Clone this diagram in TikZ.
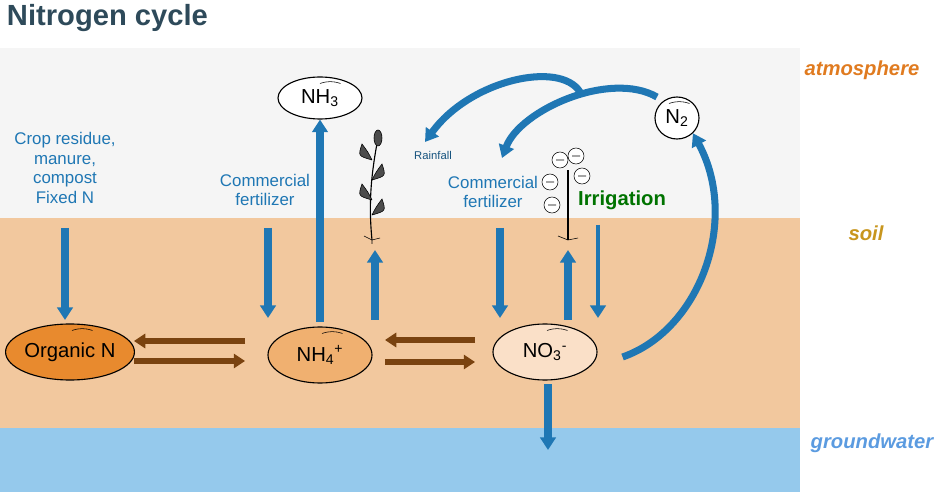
\documentclass[tikz,border=0pt]{standalone}
\usepackage{fontspec}
\setmainfont{Liberation Sans}
\usetikzlibrary{arrows.meta,shapes.geometric}
\definecolor{flowblue}{HTML}{1F77B4}
\definecolor{flowbrown}{HTML}{7A4310}
\definecolor{soilcol}{HTML}{F2C89E}
\definecolor{watercol}{HTML}{95C9EC}
\definecolor{aircol}{HTML}{F5F5F5}
\begin{document}
\begin{tikzpicture}[x=0.025cm, y=-0.025cm]
  \tikzstyle{pool} = [ellipse, draw, thick, inner sep=0pt, font=\Large]
  \tikzstyle{flow} = [-{Triangle[width=11pt,length=9pt]}, line width=5pt, flowblue]
  \tikzstyle{swap} = [-{Triangle[width=10pt,length=8pt]}, line width=4pt, flowbrown]
  \tikzstyle{label} = [text=flowblue, align=center, font=\large]
  \tikzstyle{zone} = [font=\Large\bfseries\itshape]
\useasboundingbox (0,0) rectangle (936,492);
\fill[aircol] (0,48) rectangle (800,218);
\fill[soilcol] (0,218) rectangle (800,428);
\fill[watercol] (0,428) rectangle (800,492);
\node[anchor=west, font=\huge\bfseries, text={rgb,255:red,46;green,74;blue,90}] (title) at (2,18) {Nitrogen cycle};
\node[zone, text={rgb,255:red,224;green,123;blue,32}] (atm) at (862,70) {atmosphere};
\node[zone, text={rgb,255:red,200;green,150;blue,30}] (soil) at (866,233) {soil};
\node[zone, text={rgb,255:red,91;green,155;blue,224}] (gw) at (872,443) {groundwater};
% pools
\node[pool, fill={rgb,255:red,232;green,138;blue,46}, minimum width=100*0.025cm, minimum height=56*0.025cm] (orgn) at (70,352) {Organic N};
\node[pool, fill={rgb,255:red,240;green,176;blue,112}, minimum width=104*0.025cm, minimum height=56*0.025cm] (nh4) at (320,355) {NH\textsubscript{4}\textsuperscript{+}};
\node[pool, fill={rgb,255:red,250;green,224;blue,200}, minimum width=104*0.025cm, minimum height=56*0.025cm] (no3) at (545,352) {NO\textsubscript{3}\textsuperscript{-}};
\node[pool, fill=white, minimum width=84*0.025cm, minimum height=42*0.025cm] (nh3) at (320,98) {NH\textsubscript{3}};
\node[pool, fill=white, minimum width=44*0.025cm, minimum height=42*0.025cm] (n2) at (677,118) {N\textsubscript{2}};
\foreach \p/\dx in {orgn/14, nh4/14, no3/14, nh3/12, n2/4}
  \draw (\p.north) ++(\dx-12,7) arc[start angle=110, end angle=70, radius=30*0.025cm];
% labels
\node[label] (crop) at (65,168) {Crop residue,\\manure,\\compost\\Fixed N};
\node[label] (fert1) at (265,190) {Commercial\\fertilizer};
\node[label] (fert2) at (493,192) {Commercial\\fertilizer};
\node[text=flowblue!70!black, font=\footnotesize] (rain) at (433,155) {Rainfall};
\coordinate (crops) at (65,228);
\coordinate (f1s) at (268,228);
\coordinate (f2s) at (500,228);
\coordinate (irs) at (598,225);
\coordinate (p1) at (375,250);
\coordinate (p2) at (568,250);
\coordinate (gwend) at (548,450);
\coordinate (rain1) at (580,92);
\coordinate (rain2) at (657,97);
% blue flows
\draw[flow] (crops) -- (65,320);
\draw[flow] (f1s) -- (268,318);
\draw[flow] (320,322) -- (nh3.south);
\draw[flow] (375,320) -- (p1);
\draw[flow] (f2s) -- (500,318);
\draw[flow] (568,320) -- (p2);
\draw[flow, line width=3pt] (irs) -- (598,318);
\draw[flow] (548,384) -- (gwend);
\draw[flow] (no3.east) ++(25,5) .. controls (700,330) and (740,220) .. (n2.south east);
\draw[flow] (rain1) .. controls (560,60) and (470,80) .. (425,142);
\draw[flow] (rain2) .. controls (610,70) and (520,110) .. (502,158);
% brown exchange
\draw[swap] (245,341) -- (134,341);
\draw[swap] (134,361) -- (245,361);
\draw[swap] (475,340) -- (385,340);
\draw[swap] (385,362) -- (475,362);
% plants
\draw[thick] (372,240) .. controls (368,200) and (372,170) .. (378,138);
\foreach \y/\s in {160/-1, 180/1, 200/-1, 215/1}
  \draw[fill=black!70] (372,\y) .. controls (372+14*\s,\y-4) .. (372+10*\s,\y-16) .. controls (372+4*\s,\y-8) .. (372,\y);
\draw[fill=black!70] (378,138) ellipse (4 and 8);
\draw (372,240) -- (364,236) (372,240) -- (380,238) (372,240) -- (372,244);
\draw[thick] (568,240) -- (568,170);
\foreach \x/\y in {550/182, 582/176, 552/205, 560/160, 576/156}
  \draw[fill=white] (\x,\y) circle (8) (\x-4,\y) -- (\x+4,\y);
\draw (568,240) -- (558,236) (568,240) -- (578,238);
\node[text=green!45!black, font=\Large\bfseries] (irr) at (622,200) {Irrigation};
\end{tikzpicture}
\end{document}
